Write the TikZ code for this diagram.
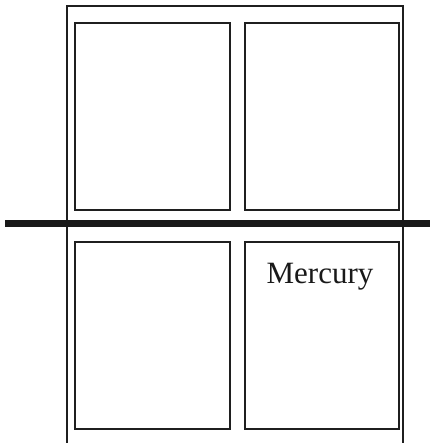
\documentclass[tikz,border=0pt]{standalone}
\usepackage{fontspec}
\setmainfont{Liberation Serif}
\begin{document}
\begin{tikzpicture}[x=1pt,y=-1pt,
  pane/.style={draw=black!88,line width=2pt,minimum height=187pt,inner sep=0pt,anchor=north west},
  frameline/.style={draw=black!88,line width=2pt},
  bar/.style={draw=black!90,line width=7pt},
  lbl/.style={font=\fontsize{31}{36}\selectfont,inner sep=0pt,text=black!90}]
\useasboundingbox (0,0) rectangle (430,443);
\coordinate (fbl) at (66.5,443);
\coordinate (ftl) at (66.5,6);
\coordinate (ftr) at (402.5,6);
\coordinate (fbr) at (402.5,443);
\draw[frameline] (fbl) -- (ftl) -- (ftr) -- (fbr);
\node[pane,minimum width=155pt] (tl) at (74,22) {};
\node[pane,minimum width=154pt] (tr) at (244,22) {};
\node[pane,minimum width=155pt] (bl) at (74,241) {};
\node[pane,minimum width=154pt] (br) at (244,241) {};
\coordinate (barl) at (5,223.5);
\coordinate (barr) at (430,223.5);
\draw[bar] (barl) -- (barr);
\node[lbl] (merc) at (320,277) {Mercury};
\end{tikzpicture}
\end{document}
